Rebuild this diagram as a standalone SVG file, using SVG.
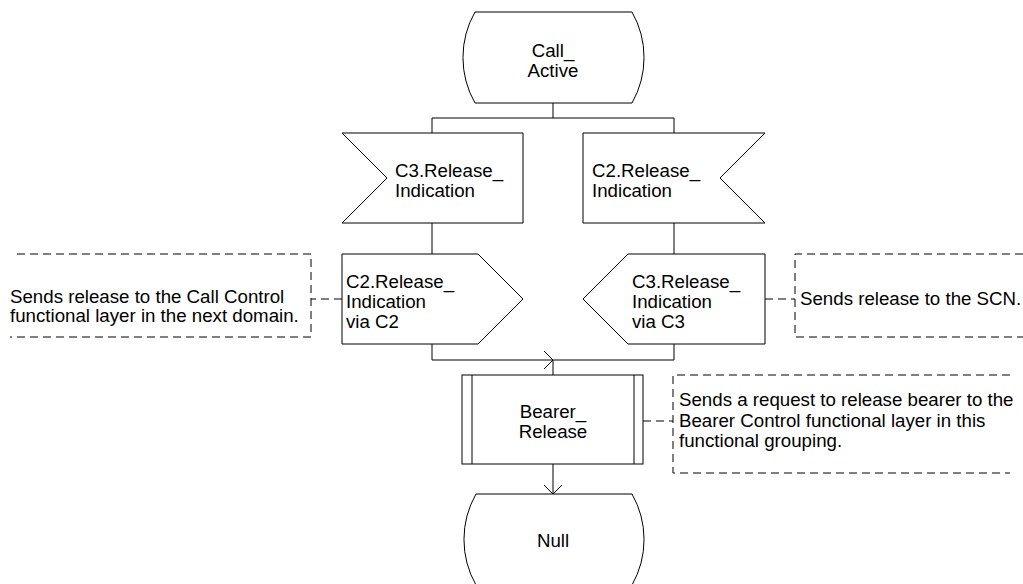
<svg xmlns="http://www.w3.org/2000/svg" width="1023" height="584" viewBox="0 0 1023 584">
<style>
.s{fill:#fff;stroke:#000;stroke-width:1}
.c{fill:none;stroke:#000;stroke-width:1}
.d{fill:none;stroke:#000;stroke-width:1;stroke-dasharray:8 5}
text{font-family:"Liberation Sans",Arial,sans-serif;font-size:18.7px;fill:#000}
.m{text-anchor:middle}
</style>
<rect width="1023" height="584" fill="#fff"/>
<g id="connectors">
<path class="c" d="M553,103V118M432,118H674M432,118V133M674,118V133"/>
<path class="c" d="M432,223V254M674,223V254"/>
<path class="c" d="M432,344V360H674V344M553,360V375"/>
<path class="c" d="M544,351L553,360L544,369"/>
<path class="c" d="M553,464V494M544,485L553,494L562,485"/>
<path class="d" d="M342,299H311"/>
<path class="d" d="M765,299H795"/>
<path class="d" d="M643,421H673"/>
</g>
<g id="call_active">
<path class="s" d="M475,12H632A92,92 0 0 1 632,103H475A92,92 0 0 1 475,12Z"/>
<text class="m" x="553" y="57">Call_</text>
<text class="m" x="553" y="77">Active</text>
</g>
<g id="in_c3">
<path class="s" d="M342,133H523V223H342L387,178Z"/>
<text x="395" y="177">C3.Release_</text>
<text x="395" y="197">Indication</text>
</g>
<g id="in_c2">
<path class="s" d="M583,133H765L720,178L765,223H583Z"/>
<text x="592" y="177">C2.Release_</text>
<text x="592" y="197">Indication</text>
</g>
<g id="out_c2">
<path class="s" d="M342,254H478L523,299L478,344H342Z"/>
<text x="346" y="288">C2.Release_</text>
<text x="346" y="308">Indication</text>
<text x="346" y="328">via C2</text>
</g>
<g id="out_c3">
<path class="s" d="M628,254H765V344H628L583,299Z"/>
<text x="632" y="288">C3.Release_</text>
<text x="632" y="308">Indication</text>
<text x="632" y="328">via C3</text>
</g>
<g id="bearer_release">
<rect class="s" x="462" y="375" width="181" height="89"/>
<path class="c" d="M472,375V464M634,375V464"/>
<text class="m" x="553" y="418">Bearer_</text>
<text class="m" x="553" y="438">Release</text>
</g>
<g id="null">
<path class="s" d="M476,494H632A92,92 0 0 1 632,585H476A92,92 0 0 1 476,494Z"/>
<text class="m" x="553" y="547">Null</text>
</g>
<g id="comment_left">
<path class="d" d="M17,254H311V337H10"/>
<text x="10" y="303">Sends release to the Call Control</text>
<text x="10" y="322">functional layer in the next domain.</text>
</g>
<g id="comment_scn">
<path class="d" d="M1023,254H795V337H1023"/>
<text x="800" y="305">Sends release to the SCN.</text>
</g>
<g id="comment_bearer">
<path class="d" d="M1010,375H673V473H1010"/>
<text x="679" y="406">Sends a request to release bearer to the</text>
<text x="679" y="427">Bearer Control functional layer in this</text>
<text x="679" y="447">functional grouping.</text>
</g>
</svg>
